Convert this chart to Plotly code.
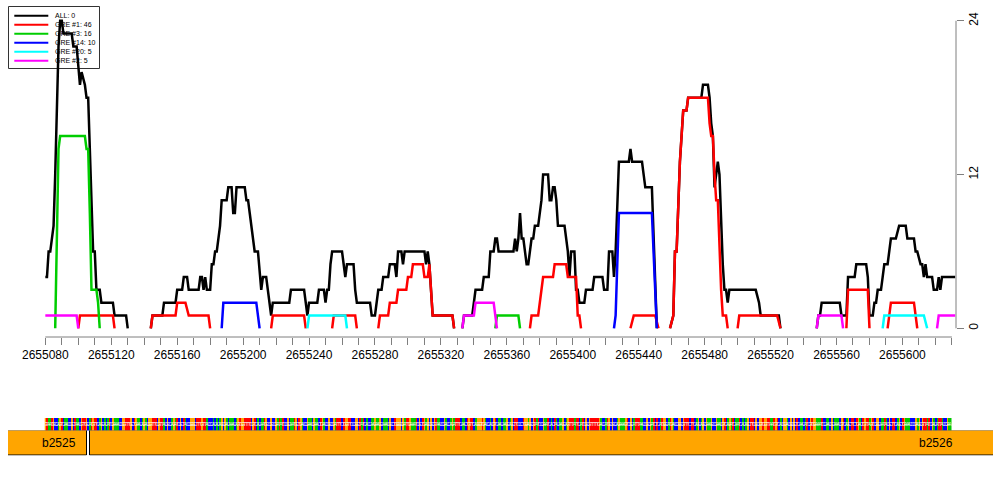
import plotly.graph_objects as go

# ---------------- data ----------------
START = 2655080  # genomic coordinate of offset 0

# (offset from START, count) vertices; None = break in the line
ALL = [(0,4),(1,4),(2,6),(3,6),(4,7),(5,8),(6,12),(7,17),(8,22),(9,24),(10,24),(11,23),(16,23),(17,22),(19,22),(21,19),(22,20),(24,19),(25,18),(26,18),(29,6),(30,6),(31,3),(33,3),(34,2),(41,2),(42,1),(49,1),(50,0),
       None,
       (64,0),(65,1),(71,1),(72,2),(79,2),(80,3),(83,3),(84,4),(86,4),(87,3),(93,3),(94,4),(95,4),(96,3),(97,4),(98,3),(100,3),(101,5),(102,5),(103,6),(104,6),(105,7),(106,8),(107,10),(110,10),(111,11),(113,11),(114,9),(115,9),(116,11),(121,11),(122,10),(123,10),(124,9),(125,8),(126,7),(127,6),(129,6),(131,3),(132,4),(134,4),(135,3),(136,2),(137,1),(138,2),(148,2),(149,3),(157,3),(158,2),(159,1),(160,2),(165,2),(166,3),(169,3),(170,2),(171,3),(172,3),(173,5),(174,6),(180,6),(181,5),(182,4),(183,5),(187,5),(188,3),(189,2),(197,2),(198,1),(200,1),(201,2),(202,3),(204,3),(205,4),(208,4),(209,5),(212,5),(213,4),(214,6),(216,6),(217,5),(218,6),(230,6),(231,5),(232,6),(233,5),(234,3),(235,1),(247,1),(248,0),
       None,
       (253,0),(254,1),(259,1),(260,2),(261,3),(265,3),(266,4),(269,4),(270,6),(272,6),(273,7),(274,7),(275,6),(284,6),(285,7),(286,6),(287,7),(288,9),(289,7),(290,7),(292,5),(293,5),(294,6),(295,7),(296,7),(297,8),(299,8),(300,9),(301,10),(302,12),(305,12),(306,10),(307,10),(308,11),(309,11),(310,10),(311,8),(315,8),(316,7),(317,6),(318,4),(319,6),(321,6),(322,3),(323,3),(324,2),(327,2),(328,3),(332,3),(333,4),(338,4),(339,3),(341,3),(342,6),(344,6),(345,4),(346,6),(347,10),(348,13),(354,13),(355,14),(356,13),(362,13),(363,12),(364,11),(368,11),(369,7),(370,3),(371,0),
       None,
       (379,0),(381,1),(382,6),(383,6),(385,13),(386,15),(387,17),(389,17),(390,18),(398,18),(399,19),(402,19),(403,18),(404,16),(405,15),(406,11),(407,12),(408,13),(409,12),(410,8),(411,5),(412,3),(413,3),(414,2),(415,3),(431,3),(433,2),(434,1),(445,1),(446,0),
       None,
       (468,0),(469,1),(470,1),(471,2),(482,2),(483,1),(486,1),(487,4),(491,4),(492,5),(498,5),(499,4),(500,1),(502,1),(503,2),(504,2),(505,3),(507,3),(508,4),(509,5),(511,5),(513,7),(516,7),(518,8),(522,8),(523,7),(527,7),(528,6),(529,6),(531,5),(532,5),(533,4),(534,5),(535,4),(538,4),(539,3),(541,3),(542,4),(543,3),(544,4),(552,4)]

GRE1 = [(20,0),(21,1),(41,1),(42,0), None,
        (64,0),(65,1),(79,1),(80,2),(85,2),(87,1),(99,1),(100,0), None,
        (137,0),(138,1),(157,1),(158,0), None,
        (174,0),(175,1),(188,1),(189,0), None,
        (202,0),(203,1),(208,1),(209,2),(213,2),(214,3),(219,3),(220,4),(222,4),(223,5),(229,5),(230,4),(232,4),(233,5),(235,1),(247,1),(248,0), None,
        (294,0),(295,1),(299,1),(300,2),(302,4),(308,4),(309,5),(316,5),(317,4),(322,4),(323,1),(324,1),(325,0), None,
        (355,0),(357,1),(370,1),(372,0), None,
        (379,0),(381,1),(382,6),(383,6),(385,13),(386,15),(387,17),(389,17),(390,18),(402,18),(403,16),(404,15),(405,15),(406,12),(407,10),(408,10),(409,6),(410,3),(411,1),(413,1),(414,0), None,
        (420,0),(421,1),(444,1),(446,0), None,
        (486,0),(487,3),(499,3),(500,0), None,
        (511,0),(512,1),(513,2),(527,2),(528,1),(529,0)]

GRE3 = [(6,0),(7,8),(8,14),(9,15),(24,15),(25,14),(26,14),(27,9),(28,3),(31,3),(32,2),(33,0), None,
        (273,0),(274,1),(287,1),(288,0)]

GRE14 = [(107,0),(108,2),(128,2),(130,0), None,
         (345,0),(346,1),(347,5),(348,9),(368,9),(369,6),(370,2),(371,0)]

GRE20 = [(159,0),(160,1),(182,1),(183,0), None,
         (508,0),(509,1),(533,1),(535,0)]

GRE2 = [(0,1),(19,1),(20,0), None,
        (253,0),(254,1),(260,1),(261,2),(272,2),(274,0), None,
        (468,0),(469,1),(483,1),(484,0), None,
        (541,0),(542,1),(552,1)]

SERIES_NAMES = ["ALL: 0", "GRE #1: 46", "GRE #3: 16", "GRE #14: 10", "GRE #20: 5", "GRE #2: 5"]
SERIES_COLORS = ["#000000", "#FF0000", "#00CD00", "#0000FF", "#00FFFF", "#FF00FF"]
SERIES_DATA = [ALL, GRE1, GRE3, GRE14, GRE20, GRE2]

X_TICK_LABELS = [2655080, 2655120, 2655160, 2655200, 2655240, 2655280, 2655320,
                 2655360, 2655400, 2655440, 2655480, 2655520, 2655560, 2655600]
Y_TICKS = [0, 12, 24]

SEQ_CHUNKS = ["GTAATGCCAG","TCAACCGCTA","ACGTTGCATG","TTCAGCACAT","CGAAACCGGT",
              "TTGCTGAACA","GACGGTTTCG","TTACGCCAGA","TCGCTACCGG","GCTTTGTTAC",
              "CCACACAGCG","ACAAACAGTG","GTTTTCGTCA","CAATGCCGCC","GATATCCGCA",
              "ATGCTGACCG","AACGAACTGA","CCGCCGATTT","CTGGTTCCGG","CTATCACCAA",
              "GAAGCAAACG","CCTGGGCGAT","TGAAATCGCT","GAGCGCGTAA","CCGACCAGAT",
              "TTCAACTGTT","CAGGGTGACC","ACGTCAACAA","GCAGCTTCCC","TGGAGCGTAT",
              "CCGAATCACT","ACAAGCAGTT","TATTCATCGC","GTTTTTGACC","ATGCGCCAGA",
              "AAGTCGCATT","TAACCGCGAT","CTCATGGCAT","GACCGGCGTT","TCTTCAGCAG",
              "CGAAGCCGAA","CGTCAGATCA","ATCACAGCTT","CGCGGTGGTT","AATGTCACGG",
              "ACGCGCTCAA","CATCGTGGAA","ATCCAACGCA","AACGTCAGCT","TCTGACTGTT",
              "AGTCGGCAAT","ACGCTTCAGC","TGAAACCCGA","GCGTTATCGA","CATTACCGAA"]
BASE_COLORS = {"A": "#00C800", "C": "#0000FF", "G": "#FFA500", "T": "#FF0000"}

GENE_NAMES = ["b2525", "b2526"]
GENE_START = [2654950, 2655107]
GENE_END = [2655105, 2656900]
GENE_LABEL_X = [2655100, 2655632]

# ---------------- layout geometry (pixels) ----------------
W, H = 1000, 500
ML, MR = 8, 7
PW = W - ML - MR
PLOT_L, PLOT_R = 44.5, 956.0
PLOT_T, PLOT_B = 9.0, 337.0
X_MIN, X_MAX = 2655079.5, 2655632.5
Y_MIN, Y_MAX = -0.68, 24.92
scale = (PLOT_R - PLOT_L) / (X_MAX - X_MIN)

def px(xp):
    return (xp - ML) / PW

def py(yp):
    return 1 - yp / H

FONT = "Liberation Sans, Arial, Helvetica, sans-serif"
GREY = "#7f7f7f"

fig = go.Figure()

# coverage lines (black first so colours sit on top)
for name, col, pts in zip(SERIES_NAMES, SERIES_COLORS, SERIES_DATA):
    xs = [START + p[0] if p is not None else None for p in pts]
    ys = [p[1] if p is not None else None for p in pts]
    fig.add_trace(go.Scatter(x=xs, y=ys, mode="lines", name=name,
                             line=dict(color=col, width=2.5), connectgaps=False,
                             showlegend=False, xaxis="x", yaxis="y"))

# sequence strip
seq = "".join(SEQ_CHUNKS)
codes = {"A": 0, "C": 1, "G": 2, "T": 3}
seq_x = [START + i for i in range(len(seq))]
fig.add_trace(go.Heatmap(
    z=[[codes[b] for b in seq]],
    x=seq_x,
    y=[0],
    zmin=-0.5, zmax=3.5,
    colorscale=[[0, BASE_COLORS["A"]], [0.25, BASE_COLORS["A"]],
                [0.25, BASE_COLORS["C"]], [0.5, BASE_COLORS["C"]],
                [0.5, BASE_COLORS["G"]], [0.75, BASE_COLORS["G"]],
                [0.75, BASE_COLORS["T"]], [1, BASE_COLORS["T"]]],
    showscale=False, xaxis="x", yaxis="y2", hoverinfo="skip"))
fig.add_trace(go.Scatter(
    x=seq_x, y=[0] * len(seq), mode="text", text=list(seq),
    textfont=dict(family=FONT, size=5, color="rgba(255,255,255,0.85)"),
    showlegend=False, xaxis="x", yaxis="y2", hoverinfo="skip", cliponaxis=True))

# gene boxes
fig.add_trace(go.Bar(
    y=[0] * len(GENE_NAMES),
    base=GENE_START,
    x=[e - s for s, e in zip(GENE_START, GENE_END)],
    orientation="h", width=1,
    marker=dict(color="#FFA500", line=dict(color="#000000", width=1)),
    showlegend=False, xaxis="x2", yaxis="y3", hoverinfo="skip"))

x2_min = X_MIN - (PLOT_L - ML) / scale
x2_max = X_MAX + (W - MR - PLOT_R) / scale

minor_vals = list(range(2655080, 2655631, 10))

fig.update_layout(
    width=W, height=H,
    autosize=False,
    margin=dict(l=ML, r=MR, t=0, b=0, pad=0, autoexpand=False),
    paper_bgcolor="white", plot_bgcolor="white",
    showlegend=False,
    bargap=0,
    xaxis=dict(domain=[px(PLOT_L), px(PLOT_R)], range=[X_MIN, X_MAX], anchor="y",
               automargin=False,
               showgrid=False, zeroline=False, showline=False,
               tickmode="array", tickvals=X_TICK_LABELS, ticktext=[str(v) for v in X_TICK_LABELS],
               ticks="outside", ticklen=7, tickcolor=GREY, tickwidth=1,
               minor=dict(tickmode="array", tickvals=minor_vals, ticks="outside", ticklen=7,
                          tickcolor=GREY, tickwidth=1, showgrid=False),
               tickfont=dict(family=FONT, size=12, color="black")),
    yaxis=dict(domain=[py(PLOT_B), py(PLOT_T)], range=[Y_MIN, Y_MAX], anchor="x", side="right",
               automargin=False,
               showgrid=False, zeroline=False, showline=False,
               tickmode="array", tickvals=Y_TICKS, ticktext=[str(v) for v in Y_TICKS],
               ticks="outside", ticklen=7, tickcolor=GREY, tickwidth=1, tickangle=-90,
               tickfont=dict(family=FONT, size=12, color="black")),
    yaxis2=dict(domain=[py(431), py(418)], range=[-0.5, 0.5], anchor="x", visible=False,
                automargin=False),
    xaxis2=dict(domain=[0, 1], range=[x2_min, x2_max], anchor="y3", visible=False,
                automargin=False),
    yaxis3=dict(domain=[py(455.5), py(430.5)], range=[-0.52, 0.52], anchor="x2", visible=False,
                automargin=False),
)

shapes = []
annotations = []
# axis lines (drawn like R: between extreme ticks / extreme y ticks)
shapes.append(dict(type="line", xref="x", yref="paper", x0=minor_vals[0], x1=minor_vals[-1],
                   y0=py(PLOT_B), y1=py(PLOT_B), line=dict(color=GREY, width=1)))
shapes.append(dict(type="line", xref="paper", yref="y", x0=px(PLOT_R), x1=px(PLOT_R),
                   y0=Y_TICKS[0], y1=Y_TICKS[-1], line=dict(color=GREY, width=1)))

# legend box (drawn beneath the lines like in the original)
shapes.append(dict(type="rect", xref="paper", yref="paper", x0=px(8.5), x1=px(99.5),
                   y0=py(68.5), y1=py(6.5), line=dict(color="#333333", width=1),
                   fillcolor="rgba(0,0,0,0)", layer="below"))
for i, (name, col) in enumerate(zip(SERIES_NAMES, SERIES_COLORS)):
    yrow = 15.7 + 9 * i
    shapes.append(dict(type="line", xref="paper", yref="paper", x0=px(14.3), x1=px(48.3),
                       y0=py(yrow), y1=py(yrow), line=dict(color=col, width=2), layer="below"))
    annotations.append(dict(text=name, xref="paper", yref="paper", x=px(53.3), y=py(yrow),
                            xanchor="left", yanchor="middle", showarrow=False,
                            font=dict(family=FONT, size=7, color="black")))

for name, lx in zip(GENE_NAMES, GENE_LABEL_X):
    annotations.append(dict(text=name, xref="x2", yref="y3", x=lx, y=0,
                            xanchor="right", yanchor="middle", showarrow=False,
                            font=dict(family=FONT, size=12, color="black")))

fig.update_layout(shapes=shapes, annotations=annotations)

fig.write_html("out.html", config={"responsive": False, "displayModeBar": False},
               post_script="document.body.style.margin='0';document.body.style.padding='0';document.body.style.overflow='hidden';")
